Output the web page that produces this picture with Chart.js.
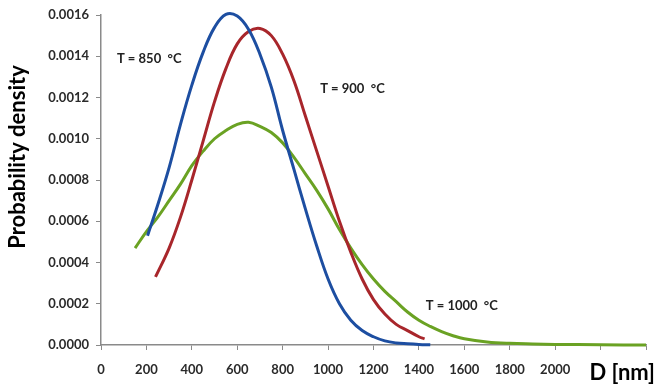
<!DOCTYPE html>
<html lang="en">
  <head>
    <meta charset="utf-8" />
    <title>Probability density vs D</title>
    <style>
      * {
        margin: 0;
        padding: 0;
      }
      body {
        background: white;
      }
      .chartBox {
        width: 658px;
        height: 389px;
      }
    </style>
  </head>
  <body>
    <div class="chartBox">
      <canvas id="myChart"></canvas>
    </div>

    <script src="https://cdn.jsdelivr.net/npm/chart.js@4/dist/chart.umd.min.js"></script>

    <script>
      // diameters (nm) and densities
      const d850 = [205, 250, 300, 350, 400, 450, 500, 550, 600, 650, 700, 750, 800, 850, 900, 950, 1000, 1050, 1100, 1150, 1200, 1250, 1300, 1350, 1400, 1450];
      const pdf850 = [0.00053, 0.00068, 0.00086, 0.00107, 0.00126, 0.00142, 0.00154, 0.001603, 0.001595, 0.00153, 0.00141, 0.00125, 0.00104, 0.00085, 0.00066, 0.00048, 0.00032, 0.0002, 0.00012, 0.00007, 0.00004, 0.00002, 0.00001, 0.000006, 0.000003, 0.000001];

      const d900 = [240, 300, 350, 400, 450, 500, 550, 600, 650, 700, 750, 800, 850, 900, 950, 1000, 1050, 1100, 1150, 1200, 1250, 1300, 1350, 1400, 1425];
      const pdf900 = [0.00033, 0.00047, 0.00062, 0.0008, 0.00099, 0.00118, 0.00134, 0.00146, 0.00152, 0.001535, 0.0015, 0.00141, 0.00128, 0.00111, 0.00094, 0.00077, 0.0006, 0.00045, 0.00032, 0.00022, 0.00015, 0.0001, 0.00007, 0.00004, 0.00003];

      const d1000 = [150, 200, 250, 300, 350, 400, 450, 500, 550, 600, 650, 700, 750, 800, 850, 900, 950, 1000, 1050, 1100, 1150, 1200, 1250, 1300, 1350, 1400, 1450, 1500, 1550, 1600, 1700, 1800, 1900, 2000, 2200, 2400];
      const pdf1000 = [0.00047, 0.00055, 0.00062, 0.0007, 0.00078, 0.00087, 0.00094, 0.001, 0.00104, 0.00107, 0.00108, 0.00106, 0.00103, 0.00098, 0.00091, 0.00083, 0.00075, 0.00066, 0.00056, 0.00047, 0.00039, 0.00032, 0.00026, 0.00021, 0.00016, 0.00012, 0.00009, 0.000065, 0.000045, 0.00003, 0.000015, 0.000008, 0.000005, 0.000003, 0.000001, 0];

      const seriesLabels = ["T = 850  °C", "T = 900  °C", "T = 1000  °C"];
      const hiddenXTicks = [2200, 2400];

      const toPoints = (xs, ys) => xs.map((x, i) => ({ x: x, y: ys[i] }));

      const lineStyle = {
        borderWidth: 3,
        pointRadius: 0,
        fill: false,
        tension: 0.4,
        clip: false,
      };

      const data = {
        datasets: [
          { label: seriesLabels[0], data: toPoints(d850, pdf850), borderColor: "#1d4ea1", ...lineStyle },
          { label: seriesLabels[1], data: toPoints(d900, pdf900), borderColor: "#a8262b", ...lineStyle },
          { label: seriesLabels[2], data: toPoints(d1000, pdf1000), borderColor: "#6aa223", ...lineStyle },
        ],
      };

      // text drawn by hand: axis titles and curve labels
      const textPlugin = {
        id: "texts",
        afterDraw(chart) {
          const ctx = chart.ctx;
          const x = chart.scales.x;
          const y = chart.scales.y;
          ctx.save();
          ctx.fillStyle = "#222";
          ctx.font = "bold 13px Lato, sans-serif";
          ctx.textBaseline = "middle";
          ctx.textAlign = "left";
          ctx.fillText(seriesLabels[0], x.getPixelForValue(70), y.getPixelForValue(0.00139));
          ctx.fillText(seriesLabels[1], x.getPixelForValue(965), y.getPixelForValue(0.00124));
          ctx.fillText(seriesLabels[2], x.getPixelForValue(1430), y.getPixelForValue(0.00019));

          ctx.fillStyle = "#000";
          ctx.font = "bold 22px Lato, sans-serif";
          ctx.textAlign = "right";
          ctx.fillText("D [nm]", 655, 373);

          ctx.translate(18, 157);
          ctx.rotate(-Math.PI / 2);
          ctx.textAlign = "center";
          ctx.font = "bold 22px Lato, sans-serif";
          ctx.fillText("Probability density", 0, 0);
          ctx.restore();
        },
      };

      const config = {
        type: "line",
        data: data,
        options: {
          responsive: false,
          animation: false,
          layout: { padding: { top: 15, right: 8, left: 0, bottom: 0 } },
          plugins: {
            legend: { display: false },
            tooltip: { enabled: false },
          },
          scales: {
            x: {
              type: "linear",
              min: 0,
              max: 2400,
              afterFit: (s) => { s.height = 44; },
              border: { display: true, color: "#8a8a8a", width: 1.5 },
              grid: { display: true, drawOnChartArea: false, drawTicks: true, tickLength: 5, color: "#8a8a8a" },
              ticks: {
                stepSize: 200,
                padding: 12,
                maxRotation: 0,
                color: "#2a2a2a",
                font: { family: "Lato, sans-serif", size: 13, weight: "bold" },
                callback: (v) => (hiddenXTicks.includes(v) ? "" : v),
              },
            },
            y: {
              min: 0,
              max: 0.0016,
              afterFit: (s) => { s.width = 101; },
              border: { display: true, color: "#8a8a8a", width: 1.5 },
              grid: { display: true, drawOnChartArea: false, drawTicks: true, tickLength: 5, color: "#8a8a8a" },
              ticks: {
                stepSize: 0.0002,
                padding: 7,
                color: "#2a2a2a",
                font: { family: "Lato, sans-serif", size: 13, weight: "bold" },
                callback: (v) => v.toFixed(4),
              },
            },
          },
        },
        plugins: [textPlugin],
      };

      const canvas = document.getElementById("myChart");
      canvas.width = 658;
      canvas.height = 389;
      const myChart = new Chart(canvas, config);
    </script>
  </body>
</html>
